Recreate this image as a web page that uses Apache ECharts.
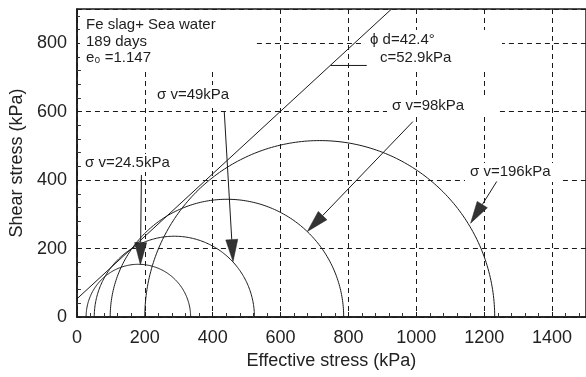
<!DOCTYPE html>
<html>
<head>
<meta charset="utf-8">
<script src="https://cdn.jsdelivr.net/npm/echarts@6/dist/echarts.min.js"></script>
<style>
html, body { margin: 0; padding: 0; background: #fff; }
#chart { width: 586px; height: 377px; }
</style>
</head>
<body>
<div id="chart"></div>
<script>
// Mohr circles, one per consolidation stress: left end (sigma3) and right end (sigma1), kPa
var circleNames = ['σv=24.5kPa', 'σv=49kPa', 'σv=98kPa', 'σv=196kPa'];
var sigma3 = [27, 51, 98, 200];
var sigma1 = [335, 523, 786, 1231];

// failure envelope, read where it meets the y axis and the top of the plot
var envelopeX = [0, 927];
var envelopeY = [53, 900];

// arrows from the labels to the circles (start -> tip), kPa
var arrowFromX = [190, 434, 990, 1237];
var arrowFromY = [415, 602, 571, 396];
var arrowToX = [187, 460, 679, 1160];
var arrowToY = [153, 162, 250, 274];

// short leader under the envelope label
var leaderX = [747, 854];
var leaderY = [735, 735];

var ink = '#1a1a1a';
var font = 'Liberation Sans, Arial, sans-serif';

var circleData = sigma3.map(function (s3, i) { return [s3, sigma1[i]]; });
var envelopeData = envelopeX.map(function (x, i) { return [x, envelopeY[i]]; });
var arrowData = arrowFromX.map(function (x, i) {
    return [x, arrowFromY[i], arrowToX[i], arrowToY[i]];
});
var leaderData = leaderX.map(function (x, i) { return [x, leaderY[i]]; });

function axisCommon(max, name, gap) {
    return {
        type: 'value',
        min: 0,
        max: max,
        interval: 200,
        name: name,
        nameLocation: 'middle',
        nameGap: gap,
        nameTextStyle: { fontSize: 18, color: '#222', fontFamily: font },
        axisLine: { show: true, lineStyle: { color: ink, width: 1.5 } },
        axisTick: { show: true, inside: true, length: 5, lineStyle: { color: ink } },
        minorTick: { show: true, splitNumber: 5, length: 4, lineStyle: { color: '#333' } },
        splitLine: { show: true, lineStyle: { color: ink, width: 1, type: [5, 4] } },
        axisLabel: {
            fontSize: 18, color: '#222', fontFamily: font, showMaxLabel: false,
            formatter: function (v) { return String(v); }
        }
    };
}

var xAxis = axisCommon(1500, 'Effective stress (kPa)', 33);
xAxis.axisLabel.margin = 12;
var yAxis = axisCommon(900, 'Shear stress (kPa)', 48);
yAxis.axisLabel.margin = 10;

// white patches behind labels (grid lines are broken there in the original)
function patch(x, y, w, h) {
    return { type: 'rect', z: 1, shape: { x: x, y: y, width: w, height: h }, style: { fill: '#fff' } };
}
function label(x, y, text) {
    return {
        type: 'text', z: 3, x: x, y: y,
        style: { text: text, font: '15px ' + font, fill: '#1e1e1e', verticalAlign: 'middle' }
    };
}

var option = {
    backgroundColor: '#fff',
    animation: false,
    grid: { left: 74, right: -2, top: 9, bottom: 60, show: true, borderColor: ink, borderWidth: 1.5 },
    xAxis: xAxis,
    yAxis: yAxis,
    graphic: [
        patch(80, 10, 175, 60),
        patch(155, 85, 80, 20),
        patch(83, 154, 92, 18),
        patch(365, 30, 137, 38),
        patch(387, 97, 111, 19),
        patch(465, 163, 95, 19),
        label(86, 25, 'Fe slag+ Sea water'),
        label(86, 42, '189 days'),
        label(86, 58, 'e₀ =1.147'),
        label(85, 163, 'σ v=24.5kPa'),
        label(157, 95, 'σ v=49kPa'),
        label(392, 106, 'σ v=98kPa'),
        label(470, 172, 'σ v=196kPa'),
        label(370, 40, 'ϕ d=42.4°'),
        label(380, 58, 'c=52.9kPa')
    ],
    series: [
        {
            // Mohr semicircles
            type: 'custom',
            name: 'Mohr circles',
            data: circleData,
            clip: true,
            encode: { x: [0, 1] },
            renderItem: function (params, api) {
                var s3 = api.value(0), s1 = api.value(1);
                var c = (s1 + s3) / 2, r = (s1 - s3) / 2;
                var pts = [];
                for (var a = 0; a <= 180; a++) {
                    var t = a * Math.PI / 180;
                    pts.push(api.coord([c + r * Math.cos(t), r * Math.sin(t)]));
                }
                return {
                    type: 'polyline',
                    shape: { points: pts },
                    style: { stroke: ink, lineWidth: 1, fill: null }
                };
            }
        },
        {
            type: 'line',
            name: 'envelope',
            data: envelopeData,
            symbol: 'none',
            clip: true,
            lineStyle: { color: ink, width: 1 }
        },
        {
            type: 'line',
            name: 'leader',
            data: leaderData,
            symbol: 'none',
            lineStyle: { color: ink, width: 1 }
        },
        {
            // label arrows with filled heads
            type: 'custom',
            name: 'arrows',
            data: arrowData,
            encode: { x: [0, 2], y: [1, 3] },
            renderItem: function (params, api) {
                var p1 = api.coord([api.value(0), api.value(1)]);
                var p2 = api.coord([api.value(2), api.value(3)]);
                var dx = p2[0] - p1[0], dy = p2[1] - p1[1];
                var len = Math.sqrt(dx * dx + dy * dy);
                var ux = dx / len, uy = dy / len;
                var hl = 22, hw = 6;
                var bx = p2[0] - ux * hl, by = p2[1] - uy * hl;
                return {
                    type: 'group',
                    children: [
                        { type: 'line', shape: { x1: p1[0], y1: p1[1], x2: bx, y2: by },
                          style: { stroke: ink, lineWidth: 1 } },
                        { type: 'polygon',
                          shape: { points: [[p2[0], p2[1]], [bx - uy * hw, by + ux * hw], [bx + uy * hw, by - ux * hw]] },
                          style: { fill: '#333', stroke: ink, lineWidth: 0.5 } }
                    ]
                };
            }
        }
    ]
};

var myChart = echarts.init(document.getElementById('chart'));
myChart.setOption(option);
</script>
</body>
</html>
